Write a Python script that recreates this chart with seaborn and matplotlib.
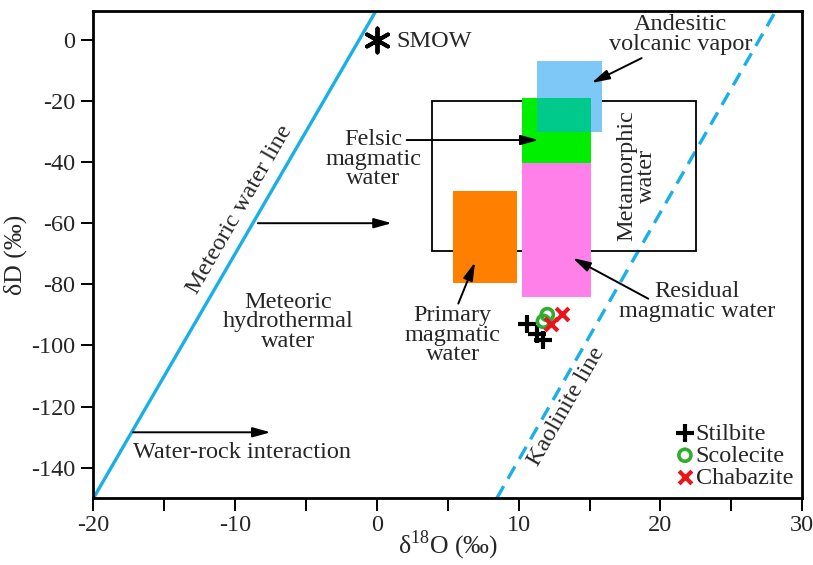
import numpy as np
import pandas as pd
import matplotlib
matplotlib.use("Agg")
import matplotlib.pyplot as plt
from matplotlib.patches import Rectangle
import seaborn as sns

# ---------------- data ----------------
meteoric_x = [-20, 0]
meteoric_y = [-150, 10]
kaolinite_x = [8.45, 28.2]
kaolinite_y = [-150, 10]

field_names = ["Primary magmatic", "Felsic magmatic", "Residual magmatic",
               "Andesitic vapor", "Metamorphic"]
field_x0 = [5.4, 10.2, 10.2, 11.3, 3.9]
field_x1 = [9.9, 15.1, 15.1, 15.9, 22.5]
field_y0 = [-79.5, -40.4, -84.1, -30.2, -69.1]
field_y1 = [-49.4, -18.9, -40.4, -6.8, -20.1]
field_colors = ["#FF7F00", "#00EE00", "#FF80E8", "#7EC8F8", "none"]
overlap_color = "#00C98C"

stilbite_x = [10.56, 11.29, 11.74]
stilbite_y = [-93.1, -96.1, -98.3]
scolecite_x = [12.02, 11.74]
scolecite_y = [-89.9, -92.1]
chabazite_x = [12.26, 13.03]
chabazite_y = [-93.1, -89.6]

smow_x = [0]
smow_y = [0]

x_ticks = [-20, -15, -10, -5, 0, 5, 10, 15, 20, 25, 30]
x_ticklabels = ["-20", "", "-10", "", "0", "", "10", "", "20", "", "30"]
y_ticks = [0, -20, -40, -60, -80, -100, -120, -140]
y_ticklabels = ["0", "-20", "-40", "-60", "-80", "-100", "-120", "-140"]

# ---------------- style ----------------
sns.set_theme(style="white")
plt.rcParams["font.family"] = ["Liberation Serif", "DejaVu Serif"]
plt.rcParams["mathtext.fontset"] = "custom"
plt.rcParams["mathtext.rm"] = "Liberation Serif"
plt.rcParams["axes.unicode_minus"] = False

FS = 17.5
line_blue = "#1AAFE6"

fig = plt.figure(figsize=(8.13, 5.65), dpi=100)
ax = fig.add_axes([0.1148, 0.118, 0.8720, 0.863])

# lines
sns.lineplot(x=meteoric_x, y=meteoric_y, color=line_blue, lw=2.4, ax=ax, zorder=2)
sns.lineplot(x=kaolinite_x, y=kaolinite_y, color=line_blue, lw=2.4, ax=ax,
             linestyle=(0, (4.2, 2.6)), zorder=2)

# fields
for name, x0, x1, y0, y1, c in zip(field_names, field_x0, field_x1, field_y0, field_y1, field_colors):
    if c == "none":
        ax.add_patch(Rectangle((x0, y0), x1 - x0, y1 - y0, facecolor="none",
                               edgecolor="black", lw=1.3, zorder=3))
    else:
        ax.add_patch(Rectangle((x0, y0), x1 - x0, y1 - y0, facecolor=c,
                               edgecolor="none", zorder=4))
# overlap of andesitic vapor and felsic water
ox0 = max(field_x0[1], field_x0[3]); ox1 = min(field_x1[1], field_x1[3])
oy0 = max(field_y0[1], field_y0[3]); oy1 = min(field_y1[1], field_y1[3])
ax.add_patch(Rectangle((ox0, oy0), ox1 - ox0, oy1 - oy0, facecolor=overlap_color,
                       edgecolor="none", zorder=5))

# samples
sns.scatterplot(x=stilbite_x, y=stilbite_y, marker="+", color="black", s=150,
                linewidth=3, label="Stilbite", ax=ax, zorder=7)
sns.scatterplot(x=scolecite_x, y=scolecite_y, marker="o", s=75, facecolor="none",
                edgecolor="#2EAD2E", linewidth=2.6, label="Scolecite", ax=ax, zorder=7)
sns.scatterplot(x=chabazite_x, y=chabazite_y, marker="x", color="#E8161C", s=85,
                linewidth=3, label="Chabazite", ax=ax, zorder=8)
sns.scatterplot(x=smow_x, y=smow_y, marker=(6, 2, 0), color="black", s=300,
                linewidth=2.8, ax=ax, zorder=7, label="_nolegend_")

# texts
ax.text(1.4, -0.7, "SMOW", fontsize=FS, ha="left", va="center")
ax.text(-9.05, -57.3, "Meteoric water line", fontsize=FS, rotation=60.1,
        rotation_mode="anchor", ha="center", va="bottom")
ax.text(13.4, -120.0, "Kaolinite line", fontsize=FS, rotation=60.1,
        rotation_mode="anchor", ha="center", va="center")
ax.text(-0.25, -39, "Felsic\nmagmatic\nwater", fontsize=FS, ha="center", va="center",
        linespacing=0.92)
ax.text(-6.25, -92.3, "Meteoric\nhydrothermal\nwater", fontsize=FS, ha="center",
        va="center", linespacing=0.92)
ax.text(5.35, -96.6, "Primary\nmagmatic\nwater", fontsize=FS, ha="center", va="center",
        linespacing=0.92)
ax.text(-17.2, -135, "Water-rock interaction", fontsize=FS, ha="left", va="center")
ax.text(21.4, 1.8, "Andesitic\nvolcanic vapor", fontsize=FS, ha="center", va="center",
        linespacing=0.92)
ax.text(18.3, -44.5, "Metamorphic\nwater", fontsize=FS, ha="center", va="center",
        rotation=90, linespacing=0.92)
ax.text(22.6, -85.6, "Residual\nmagmatic water", fontsize=FS, ha="center", va="center",
        linespacing=0.92)

# arrows
arw = dict(arrowstyle="-|>,head_length=0.9,head_width=0.25", color="black", lw=1.4,
           shrinkA=0, shrinkB=0)
ax.annotate("", xy=(1.05, -60), xytext=(-8.4, -60), arrowprops=arw, zorder=6)
ax.annotate("", xy=(-7.5, -128.4), xytext=(-17.2, -128.4), arrowprops=arw, zorder=6)
ax.annotate("", xy=(11.4, -32.8), xytext=(2.1, -32.8), arrowprops=arw, zorder=6)
ax.annotate("", xy=(6.92, -72.8), xytext=(5.74, -86.3), arrowprops=arw, zorder=6)
ax.annotate("", xy=(15.15, -14.1), xytext=(18.67, -6.0), arrowprops=arw, zorder=6)
ax.annotate("", xy=(13.81, -71.4), xytext=(19.14, -84.7), arrowprops=arw, zorder=6)

# axes
ax.set_xlim(-20, 30)
ax.set_ylim(-150, 9.5)
ax.set_xticks(x_ticks)
ax.set_xticklabels(x_ticklabels)
ax.set_yticks(y_ticks)
ax.set_yticklabels(y_ticklabels)
ax.tick_params(axis="both", which="major", direction="out", length=9, width=1.4,
               color="black", labelsize=17.5, bottom=True, left=True)
ax.tick_params(axis="x", pad=3)
ax.tick_params(axis="y", pad=4)
for sp in ax.spines.values():
    sp.set_visible(True)
    sp.set_color("black")
    sp.set_linewidth(2.0)
ax.set_xlabel(r"δ$^{\mathregular{18}}$O (‰)", fontsize=18.5, labelpad=-5)
ax.set_ylabel("δD (‰)", fontsize=18.5, labelpad=3)

ax.legend(loc="lower right", bbox_to_anchor=(1.008, -0.01), frameon=False, fontsize=FS,
          handlelength=0.6, handletextpad=0.15, labelspacing=0.0, borderaxespad=0.2)

fig.savefig("out.png", dpi=100)
